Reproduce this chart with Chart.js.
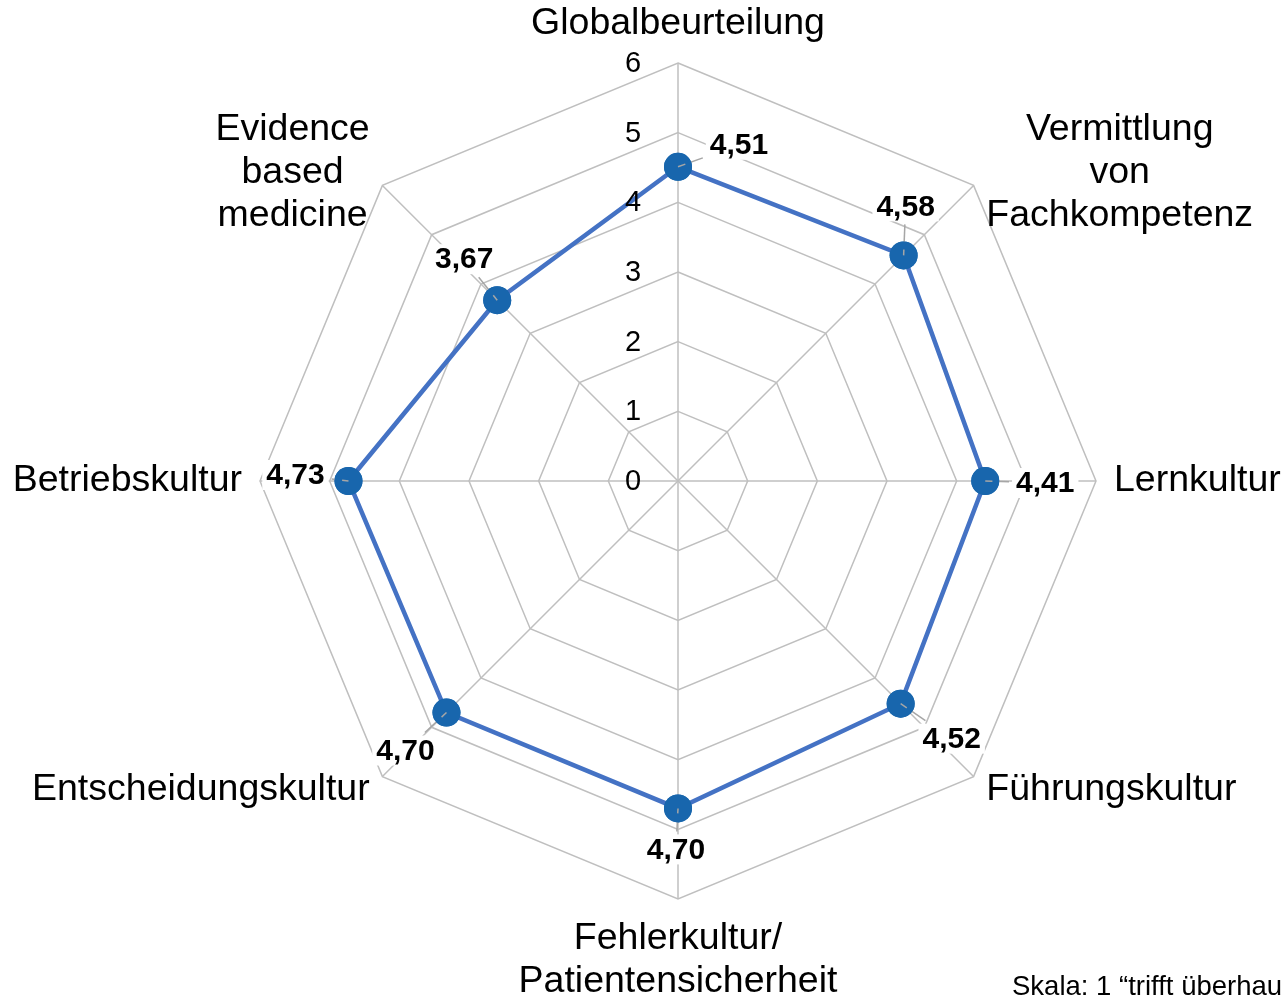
<!DOCTYPE html>
<html>
<head>
<meta charset="utf-8">
<script src="https://cdn.jsdelivr.net/npm/chart.js@4.4.1/dist/chart.umd.min.js"></script>
<style>
  html, body { margin: 0; padding: 0; background: #fff; }
  canvas { display: block; }
</style>
</head>
<body>
<canvas id="radar" width="1284" height="997"></canvas>
<script>
// --- data ---
const categories = [
  ["Globalbeurteilung"],
  ["Vermittlung", "von", "Fachkompetenz"],
  ["Lernkultur"],
  ["Führungskultur"],
  ["Fehlerkultur/", "Patientensicherheit"],
  ["Entscheidungskultur"],
  ["Betriebskultur"],
  ["Evidence", "based", "medicine"]
];
const scores = [4.51, 4.58, 4.41, 4.52, 4.70, 4.70, 4.73, 3.67];
const tickValues = [0, 1, 2, 3, 4, 5, 6];
const scaleNote = "Skala: 1 \u201Ctrifft \u00FCberhau";

// where each value label sits, relative to its point (dx, dy)
const labelOffsets = [[61, -22], [2, -49], [60, 2], [51, 35], [-2, 41], [-41, 38], [-53, -6], [-33, -41]];

const FONT = '"Liberation Sans", Arial, Helvetica, sans-serif';

const overlay = {
  id: "overlay",
  afterDatasetsDraw(chart) {
    const ctx = chart.ctx;
    const meta = chart.getDatasetMeta(0);
    ctx.save();
    ctx.font = "bold 30px " + FONT;
    ctx.textAlign = "center";
    ctx.textBaseline = "middle";
    meta.data.forEach((pt, i) => {
      const txt = scores[i].toFixed(2).replace(".", ",");
      const [dx, dy] = labelOffsets[i];
      const cx = pt.x + dx, cy = pt.y + dy;
      const w = ctx.measureText(txt).width + 8, h = 30;
      // leader line to the label box edge
      const tx = dx !== 0 ? (w / 2 + 3) / Math.abs(dx) : Infinity;
      const ty = dy !== 0 ? (h / 2 + 3) / Math.abs(dy) : Infinity;
      const f = Math.min(tx, ty, 1);
      ctx.strokeStyle = "#a6a6a6";
      ctx.lineWidth = 1.5;
      ctx.beginPath();
      ctx.moveTo(pt.x, pt.y);
      ctx.lineTo(cx - dx * f, cy - dy * f);
      ctx.stroke();
      // redraw the point over the leader start
      ctx.fillStyle = "#1866ad";
      ctx.beginPath();
      ctx.arc(pt.x, pt.y, 14, 0, Math.PI * 2);
      ctx.fill();
      ctx.strokeStyle = "#a6a6a6";
      ctx.beginPath();
      ctx.moveTo(pt.x, pt.y);
      ctx.lineTo(pt.x + dx * 0.12, pt.y + dy * 0.12);
      ctx.stroke();
      ctx.fillStyle = "#fff";
      ctx.fillRect(cx - w / 2, cy - h / 2, w, h);
      ctx.fillStyle = "#000";
      ctx.fillText(txt, cx, cy + 1);
    });
    ctx.restore();
  },
  afterDraw(chart) {
    const ctx = chart.ctx;
    const r = chart.scales.r;
    const R = r.drawingArea;
    ctx.save();

    // tick labels, left of the vertical axis
    ctx.font = "29px " + FONT;
    ctx.fillStyle = "#000";
    ctx.textAlign = "center";
    ctx.textBaseline = "middle";
    tickValues.forEach(v => {
      const y = r.yCenter - r.getDistanceFromCenterForValue(v);
      ctx.fillText(String(v), r.xCenter - 45, y + 1);
    });

    // category labels
    ctx.font = "37.5px " + FONT;
    const lineH = 43;
    categories.forEach((lines, i) => {
      const ang = i * 360 / categories.length;
      const p = r.getPointPosition(i, R + 18);
      const bw = Math.max(...lines.map(l => ctx.measureText(l).width));
      const bh = lines.length * lineH;
      let cx, top;
      if (ang === 0 || ang === 180) cx = p.x;
      else if (ang < 180) cx = p.x + bw / 2;
      else cx = p.x - bw / 2;
      if (ang === 0) top = p.y - bh;
      else if (ang === 180) top = p.y;
      else top = p.y - bh / 2;
      lines.forEach((l, k) => ctx.fillText(l, cx, top + lineH * (k + 0.5)));
    });

    // scale note, cut at the right edge
    ctx.font = "27.5px " + FONT;
    ctx.textAlign = "left";
    ctx.textBaseline = "alphabetic";
    ctx.fillText(scaleNote, 1012, 995);
    ctx.restore();
  }
};

new Chart(document.getElementById("radar"), {
  type: "radar",
  data: {
    labels: categories,
    datasets: [{
      data: scores,
      borderColor: "#4472c4",
      borderWidth: 4.5,
      backgroundColor: "rgba(0,0,0,0)",
      fill: false,
      pointRadius: 14,
      pointHoverRadius: 14,
      pointBackgroundColor: "#1866ad",
      pointBorderColor: "#1866ad",
      pointBorderWidth: 0
    }]
  },
  options: {
    responsive: false,
    animation: false,
    devicePixelRatio: 1,
    layout: { padding: { left: 260, right: 188, top: 63, bottom: 98 } },
    plugins: { legend: { display: false }, tooltip: { enabled: false } },
    scales: {
      r: {
        min: 0,
        max: 6,
        ticks: { stepSize: 1, display: false },
        pointLabels: { display: false },
        grid: { color: "#bfbfbf", lineWidth: 1.5 },
        angleLines: { color: "#bfbfbf", lineWidth: 1.5 }
      }
    }
  },
  plugins: [overlay]
});
</script>
</body>
</html>
